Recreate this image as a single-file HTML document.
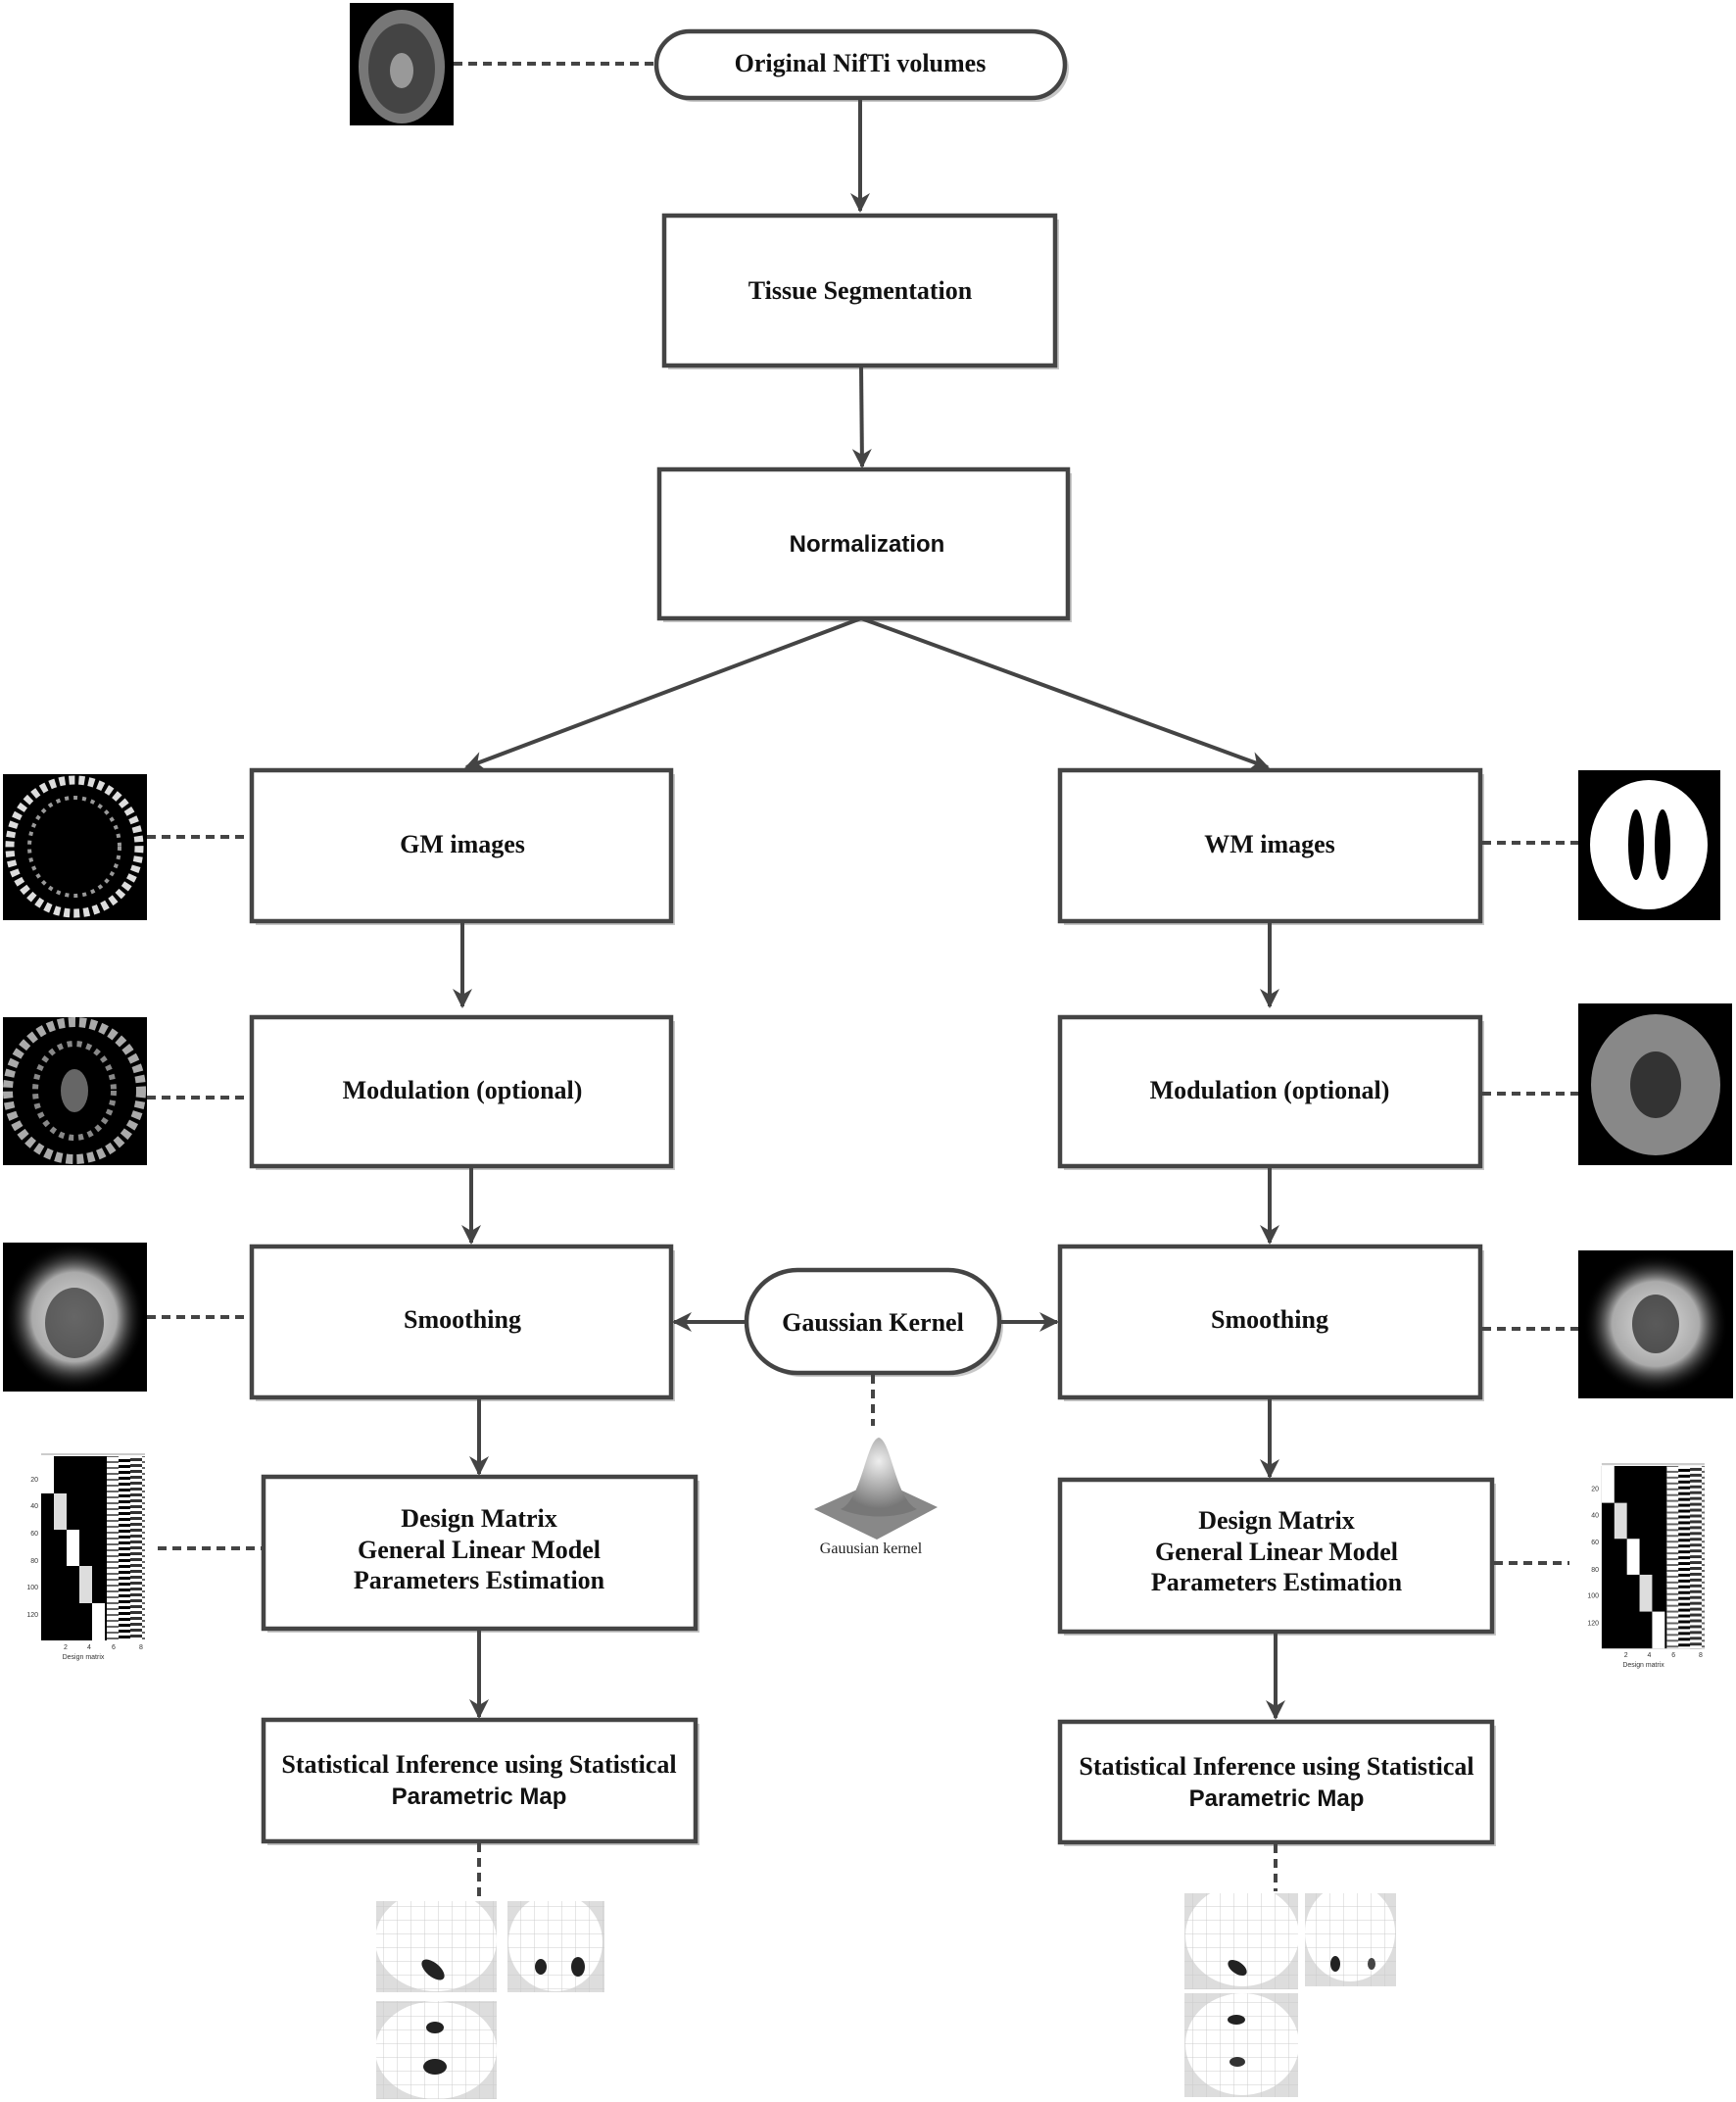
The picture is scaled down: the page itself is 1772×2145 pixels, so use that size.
<!DOCTYPE html>
<html><head><meta charset="utf-8"><style>
html,body{margin:0;padding:0;background:#fff}
svg{display:block}
.t{font-family:"Liberation Serif",serif;font-weight:bold;font-size:26px;fill:#111;text-anchor:middle}
.s{font-family:"Liberation Sans",sans-serif;font-weight:bold;font-size:24px;fill:#111;text-anchor:middle}
.b{fill:#fff;stroke:#444;stroke-width:4.5}
.sh{fill:#c8c8c8}
.a{stroke:#444;stroke-width:4;fill:none}
.d{stroke:#444;stroke-width:4;fill:none;stroke-dasharray:9 6}
.tick{font-family:"Liberation Sans",sans-serif;font-size:7px;fill:#333}
</style></head><body>
<svg width="1772" height="2145" viewBox="0 0 1772 2145" xmlns="http://www.w3.org/2000/svg">
<defs>
<marker id="ah" viewBox="0 0 10 10" refX="9" refY="5" markerWidth="5" markerHeight="5" orient="auto" markerUnits="strokeWidth"><path d="M0,0 L10,5 L0,10 L3,5 z" fill="#444"/></marker>
<radialGradient id="blur" cx="50%" cy="50%" r="50%"><stop offset="0" stop-color="#ddd"/><stop offset="0.6" stop-color="#aaa"/><stop offset="1" stop-color="#000" stop-opacity="0"/></radialGradient>
<radialGradient id="gk" cx="50%" cy="30%" r="60%"><stop offset="0" stop-color="#eee"/><stop offset="1" stop-color="#777"/></radialGradient>
<pattern id="stripes" width="36" height="6" patternUnits="userSpaceOnUse"><rect width="36" height="6" fill="#fff"/><rect y="0" width="12" height="3" fill="#333"/><rect x="12" y="3" width="12" height="2" fill="#666"/><rect x="24" y="1" width="12" height="3" fill="#000"/></pattern>
<symbol id="dm" viewBox="0 0 123 216">
<line x1="17" y1="2" x2="123" y2="2" stroke="#999" stroke-width="1"/>
<rect x="17" y="4" width="106" height="188" fill="#000"/>
<rect x="17" y="4" width="13" height="38" fill="#fff"/>
<rect x="30" y="42" width="13" height="37" fill="#ddd"/>
<rect x="43" y="79" width="13" height="37" fill="#fff"/>
<rect x="56" y="116" width="13" height="38" fill="#ddd"/>
<rect x="69" y="154" width="13" height="38" fill="#fff"/>
<rect x="84" y="4" width="39" height="188" fill="url(#stripes)"/>
<text class="tick" x="14" y="30" text-anchor="end">20</text>
<text class="tick" x="14" y="57" text-anchor="end">40</text>
<text class="tick" x="14" y="85" text-anchor="end">60</text>
<text class="tick" x="14" y="113" text-anchor="end">80</text>
<text class="tick" x="14" y="140" text-anchor="end">100</text>
<text class="tick" x="14" y="168" text-anchor="end">120</text>
<text class="tick" x="40" y="201">2</text><text class="tick" x="64" y="201">4</text><text class="tick" x="89" y="201">6</text><text class="tick" x="117" y="201">8</text>
<text class="tick" x="60" y="211" text-anchor="middle">Design matrix</text>
</symbol>
<pattern id="grid" width="14" height="14" patternUnits="userSpaceOnUse"><path d="M14 0V14H0" fill="none" stroke="#ccc" stroke-width="1"/></pattern>
</defs>

<rect x="357" y="3" width="106" height="125" fill="#000"/>
<ellipse cx="410" cy="68" rx="44" ry="58" fill="#777"/>
<ellipse cx="410" cy="70" rx="34" ry="46" fill="#444"/>
<ellipse cx="410" cy="72" rx="12" ry="18" fill="#999"/>

<rect x="674" y="36" width="417" height="68" rx="34" class="sh"/>
<rect x="670" y="32" width="417" height="68" rx="34" class="b"/>
<text class="t" x="878" y="73">Original NifTi volumes</text>
<line class="d" x1="463" y1="65" x2="668" y2="65"/>
<line class="a" x1="878" y1="100" x2="878" y2="215" marker-end="url(#ah)"/>

<rect x="682" y="224" width="399" height="153" class="sh"/>
<rect x="678" y="220" width="399" height="153" class="b"/>
<text class="t" x="878" y="305">Tissue Segmentation</text>
<line class="a" x1="879" y1="373" x2="880" y2="476" marker-end="url(#ah)"/>

<rect x="677" y="483" width="417" height="152" class="sh"/>
<rect x="673" y="479" width="417" height="152" class="b"/>
<text class="s" x="885" y="563">Normalization</text>
<line class="a" x1="879" y1="631" x2="476" y2="783" marker-end="url(#ah)"/>
<line class="a" x1="879" y1="631" x2="1294" y2="783" marker-end="url(#ah)"/>

<rect x="261" y="790" width="428" height="154" class="sh"/>
<rect x="257" y="786" width="428" height="154" class="b"/>
<text class="t" x="472" y="870">GM images</text>
<rect x="3" y="790" width="147" height="149" fill="#000"/>
<ellipse cx="76" cy="864" rx="66" ry="68" fill="none" stroke="#ddd" stroke-width="9" stroke-dasharray="6 4"/>
<ellipse cx="76" cy="864" rx="46" ry="50" fill="none" stroke="#999" stroke-width="4" stroke-dasharray="4 5"/>
<line class="d" x1="150" y1="854" x2="255" y2="854"/>
<line class="a" x1="472" y1="940" x2="472" y2="1027" marker-end="url(#ah)"/>

<rect x="261" y="1042" width="428" height="152" class="sh"/>
<rect x="257" y="1038" width="428" height="152" class="b"/>
<text class="t" x="472" y="1121">Modulation (optional)</text>
<rect x="3" y="1038" width="147" height="151" fill="#000"/>
<ellipse cx="76" cy="1113" rx="68" ry="70" fill="none" stroke="#aaa" stroke-width="10" stroke-dasharray="7 4"/>
<ellipse cx="76" cy="1113" rx="40" ry="48" fill="none" stroke="#888" stroke-width="6" stroke-dasharray="5 5"/>
<ellipse cx="76" cy="1113" rx="14" ry="22" fill="#666"/>
<line class="d" x1="150" y1="1120" x2="255" y2="1120"/>
<line class="a" x1="481" y1="1190" x2="481" y2="1268" marker-end="url(#ah)"/>

<rect x="261" y="1276" width="428" height="154" class="sh"/>
<rect x="257" y="1272" width="428" height="154" class="b"/>
<text class="t" x="472" y="1355">Smoothing</text>
<rect x="3" y="1268" width="147" height="152" fill="#000"/>
<ellipse cx="76" cy="1344" rx="72" ry="76" fill="url(#blur)"/>
<ellipse cx="76" cy="1350" rx="30" ry="36" fill="#333" opacity="0.7"/>
<line class="d" x1="150" y1="1344" x2="255" y2="1344"/>
<line class="a" x1="489" y1="1426" x2="489" y2="1504" marker-end="url(#ah)"/>

<rect x="273" y="1511" width="441" height="155" class="sh"/>
<rect x="269" y="1507" width="441" height="155" class="b"/>
<text class="t" x="489" y="1558">Design Matrix</text>
<text class="t" x="489" y="1590">General Linear Model</text>
<text class="t" x="489" y="1621">Parameters Estimation</text>
<use href="#dm" x="25" y="1482" width="123" height="216"/>
<line class="d" x1="161" y1="1580" x2="267" y2="1580"/>
<line class="a" x1="489" y1="1662" x2="489" y2="1752" marker-end="url(#ah)"/>

<rect x="273" y="1759" width="441" height="124" class="sh"/>
<rect x="269" y="1755" width="441" height="124" class="b"/>
<text class="t" x="489" y="1809">Statistical Inference using Statistical</text>
<text class="s" x="489" y="1841">Parametric Map</text>
<line class="d" x1="489" y1="1881" x2="489" y2="1935"/>
<g>
<rect x="384" y="1940" width="123" height="93" fill="#ddd"/><ellipse cx="445" cy="1980" rx="62" ry="52" fill="#fff"/><rect x="384" y="1940" width="123" height="93" fill="url(#grid)"/>
<ellipse cx="442" cy="2010" rx="14" ry="7" transform="rotate(40 442 2010)" fill="#222"/>
<rect x="518" y="1940" width="99" height="93" fill="#ddd"/><ellipse cx="567" cy="1982" rx="48" ry="50" fill="#fff"/><rect x="518" y="1940" width="99" height="93" fill="url(#grid)"/>
<ellipse cx="552" cy="2007" rx="6" ry="8" fill="#222"/><ellipse cx="590" cy="2007" rx="7" ry="10" fill="#222"/>
<rect x="384" y="2042" width="123" height="100" fill="#ddd"/><ellipse cx="445" cy="2092" rx="62" ry="50" fill="#fff"/><rect x="384" y="2042" width="123" height="100" fill="url(#grid)"/>
<ellipse cx="444" cy="2069" rx="9" ry="6" fill="#222"/><ellipse cx="444" cy="2109" rx="12" ry="8" fill="#222"/>
</g>

<rect x="766" y="1300" width="258" height="105" rx="52" class="sh"/>
<rect x="762" y="1296" width="258" height="105" rx="52" class="b"/>
<text class="t" x="891" y="1358">Gaussian Kernel</text>
<line class="a" x1="762" y1="1349" x2="688" y2="1349" marker-end="url(#ah)"/>
<line class="a" x1="1020" y1="1349" x2="1079" y2="1349" marker-end="url(#ah)"/>
<line class="d" x1="891" y1="1403" x2="891" y2="1455"/>
<path d="M831,1540 L897,1510 L957,1538 L895,1571 Z" fill="#888"/>
<path d="M858,1540 C880,1530 884,1470 897,1467 C910,1470 914,1530 936,1540 C915,1550 880,1550 858,1540 Z" fill="url(#gk)"/>
<text x="889" y="1585" text-anchor="middle" font-family="Liberation Serif,serif" font-size="16" fill="#222">Gauusian kernel</text>

<rect x="1086" y="790" width="429" height="154" class="sh"/>
<rect x="1082" y="786" width="429" height="154" class="b"/>
<text class="t" x="1296" y="870">WM  images</text>
<rect x="1611" y="786" width="145" height="153" fill="#000"/>
<ellipse cx="1683" cy="862" rx="60" ry="66" fill="#fff"/>
<ellipse cx="1670" cy="862" rx="8" ry="36" fill="#000"/><ellipse cx="1697" cy="862" rx="8" ry="36" fill="#000"/>
<line class="d" x1="1513" y1="860" x2="1611" y2="860"/>
<line class="a" x1="1296" y1="940" x2="1296" y2="1027" marker-end="url(#ah)"/>

<rect x="1086" y="1042" width="429" height="152" class="sh"/>
<rect x="1082" y="1038" width="429" height="152" class="b"/>
<text class="t" x="1296" y="1121">Modulation (optional)</text>
<rect x="1611" y="1024" width="157" height="165" fill="#000"/>
<ellipse cx="1690" cy="1107" rx="66" ry="72" fill="#888"/>
<ellipse cx="1690" cy="1107" rx="26" ry="34" fill="#333"/>
<line class="d" x1="1513" y1="1116" x2="1611" y2="1116"/>
<line class="a" x1="1296" y1="1190" x2="1296" y2="1268" marker-end="url(#ah)"/>

<rect x="1086" y="1276" width="429" height="154" class="sh"/>
<rect x="1082" y="1272" width="429" height="154" class="b"/>
<text class="t" x="1296" y="1355">Smoothing</text>
<rect x="1611" y="1276" width="158" height="151" fill="#000"/>
<ellipse cx="1690" cy="1351" rx="74" ry="72" fill="url(#blur)"/>
<ellipse cx="1690" cy="1351" rx="24" ry="30" fill="#222" opacity="0.7"/>
<line class="d" x1="1513" y1="1356" x2="1611" y2="1356"/>
<line class="a" x1="1296" y1="1426" x2="1296" y2="1507" marker-end="url(#ah)"/>

<rect x="1086" y="1514" width="441" height="155" class="sh"/>
<rect x="1082" y="1510" width="441" height="155" class="b"/>
<text class="t" x="1303" y="1560">Design Matrix</text>
<text class="t" x="1303" y="1592">General Linear Model</text>
<text class="t" x="1303" y="1623">Parameters Estimation</text>
<use href="#dm" x="1604" y="1492" width="150" height="214"/>
<line class="d" x1="1525" y1="1595" x2="1602" y2="1595"/>
<line class="a" x1="1302" y1="1665" x2="1302" y2="1753" marker-end="url(#ah)"/>

<rect x="1086" y="1761" width="441" height="123" class="sh"/>
<rect x="1082" y="1757" width="441" height="123" class="b"/>
<text class="t" x="1303" y="1811">Statistical Inference using Statistical</text>
<text class="s" x="1303" y="1843">Parametric Map</text>
<line class="d" x1="1302" y1="1882" x2="1302" y2="1930"/>
<g>
<rect x="1209" y="1932" width="116" height="98" fill="#ddd"/><ellipse cx="1268" cy="1975" rx="58" ry="52" fill="#fff"/><rect x="1209" y="1932" width="116" height="98" fill="url(#grid)"/>
<ellipse cx="1263" cy="2008" rx="11" ry="6" transform="rotate(35 1263 2008)" fill="#222"/>
<rect x="1332" y="1932" width="93" height="95" fill="#ddd"/><ellipse cx="1378" cy="1972" rx="46" ry="50" fill="#fff"/><rect x="1332" y="1932" width="93" height="95" fill="url(#grid)"/>
<ellipse cx="1363" cy="2004" rx="5" ry="8" fill="#222"/><ellipse cx="1400" cy="2004" rx="4" ry="6" fill="#444"/>
<rect x="1209" y="2034" width="116" height="106" fill="#ddd"/><ellipse cx="1268" cy="2086" rx="58" ry="52" fill="#fff"/><rect x="1209" y="2034" width="116" height="106" fill="url(#grid)"/>
<ellipse cx="1262" cy="2061" rx="9" ry="5" fill="#222"/><ellipse cx="1263" cy="2104" rx="8" ry="5" fill="#333"/>
</g>
</svg>
</body></html>
